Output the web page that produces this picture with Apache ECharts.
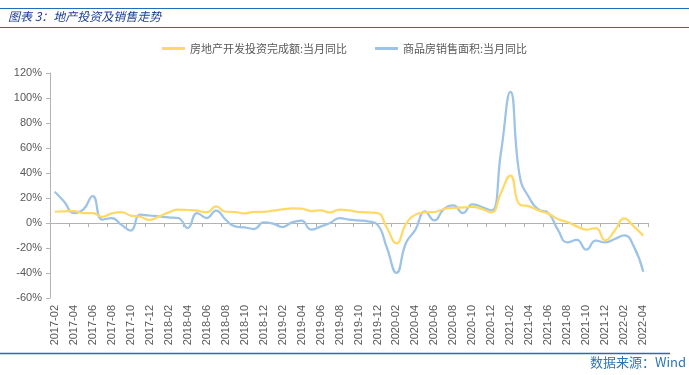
<!DOCTYPE html>
<html>
<head>
<meta charset="utf-8">
<script src="https://cdn.jsdelivr.net/npm/echarts@6/dist/echarts.min.js"></script>
<style>
html,body{margin:0;padding:0;background:#fff;}
#c{width:689px;height:375px;}
</style>
</head>
<body>
<div id="c"></div>
<script>
// Months 2017-02 .. 2022-04
var categories = [];
(function(){
  var y = 2017, m = 2;
  while (y < 2022 || (y === 2022 && m <= 4)) {
    categories.push(y + '-' + (m < 10 ? '0' + m : m));
    m++; if (m > 12) { m = 1; y++; }
  }
})();

var investment = [9, 9.3, 9.6, 8, 8, 5, 7.7, 8.8, 5.9, 5, 2.5, 5.3,
  8.5, 10.7, 10.4, 9.9, 8.5, 13.3, 9, 8.8, 7.7, 9, 9,
  9.9, 10.9, 11.7, 11.5, 9.6, 10.1, 8.5, 10.7, 10.1, 8.8, 8.5,
  8, -4, -16.3, -0.8, 6.7, 8.5, 8.8, 11.2, 12, 12.5, 13,
  11.2, 8.5, 24, 38, 14.7, 13.3, 9.9, 7.5, 3.2, 0.8,
  -2.7, -5.3, -4, -13.9, -6, 3.7, -2.7, -10.1];

var salesArea = [25, 17, 8, 10.7, 21.5, 2.7, 4, -1.3, -6, 6.7, 6, 5.3,
  4.5, 4, -4, 8, 4, 10, 2.7, -2.7, -3.5, -4.8, 0.5,
  -0.5, -3.2, 0.5, 1.9, -5.3, -2.9, 0, 4, 2.7, 2.1, 1.3,
  -1.3, -20, -39.9, -16, -5.3, 9.3, 2.1, 11.2, 14.1, 8, 15,
  12.8, 10, 56, 104.9, 37, 20, 10.7, 8, -5.3, -15.5,
  -13.5, -21.3, -14.1, -15.5, -12.8, -9.9, -18.7, -39];

var seriesNames = ['房地产开发投资完成额:当月同比', '商品房销售面积:当月同比'];
var yTicks = {min: -60, max: 120, interval: 20};

var chart = echarts.init(document.getElementById('c'));
var font = '"Liberation Sans", Arial, "Noto Sans CJK SC", sans-serif';
chart.setOption({
  animation: false,
  backgroundColor: '#fff',
  textStyle: {fontFamily: font},
  grid: {left: 50, right: 41, top: 73, bottom: 77, containLabel: false},
  legend: {
    top: 38, left: 'center',
    itemWidth: 23, itemHeight: 3, itemGap: 28,
    icon: 'rect',
    textStyle: {fontSize: 11, color: '#595959', fontFamily: '"Noto Sans CJK SC", sans-serif'},
    data: seriesNames
  },
  xAxis: [{
    type: 'category', data: categories, boundaryGap: true,
    axisLine: {show: false, onZero: false},
    axisTick: {show: false},
    axisLabel: {rotate: 90, interval: 1, fontSize: 11, color: '#595959', margin: 7, fontFamily: font}
  }, {
    type: 'category', data: categories, boundaryGap: true, position: 'bottom',
    axisLine: {show: true, onZero: true, lineStyle: {color: '#b3b3b3', width: 1}},
    axisTick: {show: true, interval: 1, length: 4, inside: false, lineStyle: {color: '#b3b3b3'}},
    axisLabel: {show: false}
  }],
  yAxis: {
    type: 'value', min: yTicks.min, max: yTicks.max, interval: yTicks.interval,
    axisLine: {show: true, lineStyle: {color: '#b3b3b3'}},
    axisTick: {show: true, length: 4, lineStyle: {color: '#b3b3b3'}},
    splitLine: {show: false},
    axisLabel: {formatter: '{value}%', fontSize: 11, color: '#595959', margin: 8, fontFamily: font}
  },
  series: [{
    name: seriesNames[0], type: 'line', data: investment, smooth: 0.5,
    symbol: 'none', lineStyle: {color: '#FFD966', width: 2.25}, itemStyle: {color: '#FFD966'}, z: 3
  }, {
    name: seriesNames[1], type: 'line', data: salesArea, smooth: 0.5,
    symbol: 'none', lineStyle: {color: '#9DC3E6', width: 2.25}, itemStyle: {color: '#9DC3E6'}, z: 2
  }],
  graphic: [
    {type: 'line', shape: {x1: 0, y1: 8.5, x2: 689, y2: 8.5}, style: {stroke: '#1F6EBF', lineWidth: 1.2}},
    {type: 'line', shape: {x1: 0, y1: 27.5, x2: 689, y2: 27.5}, style: {stroke: '#1F6EBF', lineWidth: 1.2}},
    {type: 'line', shape: {x1: 0, y1: 353.5, x2: 670, y2: 353.5}, style: {stroke: '#1F6EBF', lineWidth: 1.5}},
    {type: 'text', left: 8, top: 10, style: {text: '图表 3：地产投资及销售走势', fill: '#1F3F8F', font: 'italic 12px "Noto Sans CJK SC", sans-serif'}},
    {type: 'text', right: 3, top: 356, style: {text: '数据来源：Wind', fill: '#2E75B6', font: '13px "Noto Sans CJK SC", "DejaVu Sans Mono", monospace'}}
  ]
});
</script>
</body>
</html>
